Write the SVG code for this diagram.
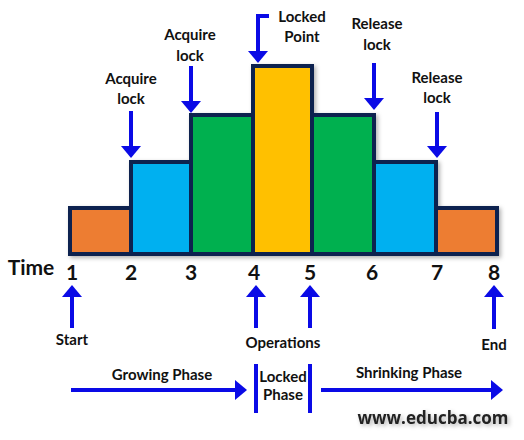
<svg xmlns="http://www.w3.org/2000/svg" width="524" height="440" viewBox="0 0 524 440">
<style>
.bar{stroke:#0c2150;stroke-width:4;stroke-linejoin:miter}
.lbl{font-family:Lato,"Liberation Sans",sans-serif;font-weight:bold;font-size:15px;fill:#111;text-anchor:middle}
.num{font-family:Lato,"Liberation Sans",sans-serif;font-weight:bold;font-size:21px;fill:#111;text-anchor:middle}
.ar{stroke:#0a0ae6;stroke-width:4;fill:none}
.hd{fill:#0a0ae6}
</style>
<defs>
<filter id="sh" x="-10%" y="-10%" width="130%" height="130%">
<feDropShadow dx="2" dy="2" stdDeviation="2" flood-color="#000" flood-opacity="0.3"/>
</filter>
</defs>
<g id="bars" filter="url(#sh)">
<rect id="b1" class="bar" x="70" y="208" width="61" height="46" fill="#ed7d31"/>
<rect id="b2" class="bar" x="131" y="162" width="60" height="92" fill="#00b0f0"/>
<rect id="b3" class="bar" x="191" y="115" width="62" height="139" fill="#00b050"/>
<rect id="b4" class="bar" x="253" y="66" width="59" height="188" fill="#ffc000"/>
<rect id="b5" class="bar" x="312" y="115" width="62" height="139" fill="#00b050"/>
<rect id="b6" class="bar" x="374" y="162" width="62" height="92" fill="#00b0f0"/>
<rect id="b7" class="bar" x="436" y="208" width="61" height="46" fill="#ed7d31"/>
</g>
<g id="labels">
<text class="lbl" x="131" y="84">Acquire</text>
<text class="lbl" x="131" y="104">lock</text>
<text class="lbl" x="190" y="40">Acquire</text>
<text class="lbl" x="190" y="61">lock</text>
<text class="lbl" x="302" y="22">Locked</text>
<text class="lbl" x="302" y="42">Point</text>
<text class="lbl" x="377" y="29">Release</text>
<text class="lbl" x="377" y="50">lock</text>
<text class="lbl" x="437" y="83">Release</text>
<text class="lbl" x="437" y="103">lock</text>
<text class="num" x="31" y="275">Time</text>
<text class="num" x="72" y="280">1</text>
<text class="num" x="131" y="280">2</text>
<text class="num" x="191" y="280">3</text>
<text class="num" x="254" y="280">4</text>
<text class="num" x="310" y="280">5</text>
<text class="num" x="372" y="280">6</text>
<text class="num" x="437" y="280">7</text>
<text class="num" x="494" y="280">8</text>
<text class="lbl" x="72" y="345">Start</text>
<text class="lbl" x="283" y="348">Operations</text>
<text class="lbl" x="494" y="350">End</text>
<text class="lbl" x="162" y="380">Growing Phase</text>
<text class="lbl" x="283" y="382">Locked</text>
<text class="lbl" x="283" y="400">Phase</text>
<text class="lbl" x="409" y="378">Shrinking Phase</text>
<text x="433" y="424" style="font-family:'Open Sans','Liberation Sans',sans-serif;font-weight:bold;font-size:17px;fill:#222;text-anchor:middle;filter:url(#sh)">www.educba.com</text>
</g>
<g id="connectors">
<line class="ar" x1="131" y1="111" x2="131" y2="147"/><path class="hd" d="M121,146 L141,146 L131,158 Z"/>
<line class="ar" x1="191" y1="66" x2="191" y2="102"/><path class="hd" d="M181,101 L201,101 L191,113 Z"/>
<polyline class="ar" points="269,16 258,16 258,52"/><path class="hd" d="M248,51 L268,51 L258,63 Z"/>
<line class="ar" x1="374" y1="63" x2="374" y2="99"/><path class="hd" d="M364,98 L384,98 L374,110 Z"/>
<line class="ar" x1="437" y1="112" x2="437" y2="147"/><path class="hd" d="M427,146 L447,146 L437,158 Z"/>
<line class="ar" x1="72" y1="296" x2="72" y2="328"/><path class="hd" d="M62,297 L82,297 L72,285 Z"/>
<line class="ar" x1="256" y1="296" x2="256" y2="328"/><path class="hd" d="M246,297 L266,297 L256,285 Z"/>
<line class="ar" x1="310" y1="296" x2="310" y2="328"/><path class="hd" d="M300,297 L320,297 L310,285 Z"/>
<line class="ar" x1="494" y1="296" x2="494" y2="329"/><path class="hd" d="M484,297 L504,297 L494,285 Z"/>
<line class="ar" x1="71" y1="390" x2="236" y2="390"/><path class="hd" d="M235,380 L235,400 L247,390 Z"/>
<line class="ar" x1="321" y1="390" x2="492" y2="390"/><path class="hd" d="M491,380 L491,400 L503,390 Z"/>
<line class="ar" x1="256" y1="364" x2="256" y2="413"/>
<line class="ar" x1="310" y1="364" x2="310" y2="413"/>
</g>
</svg>
